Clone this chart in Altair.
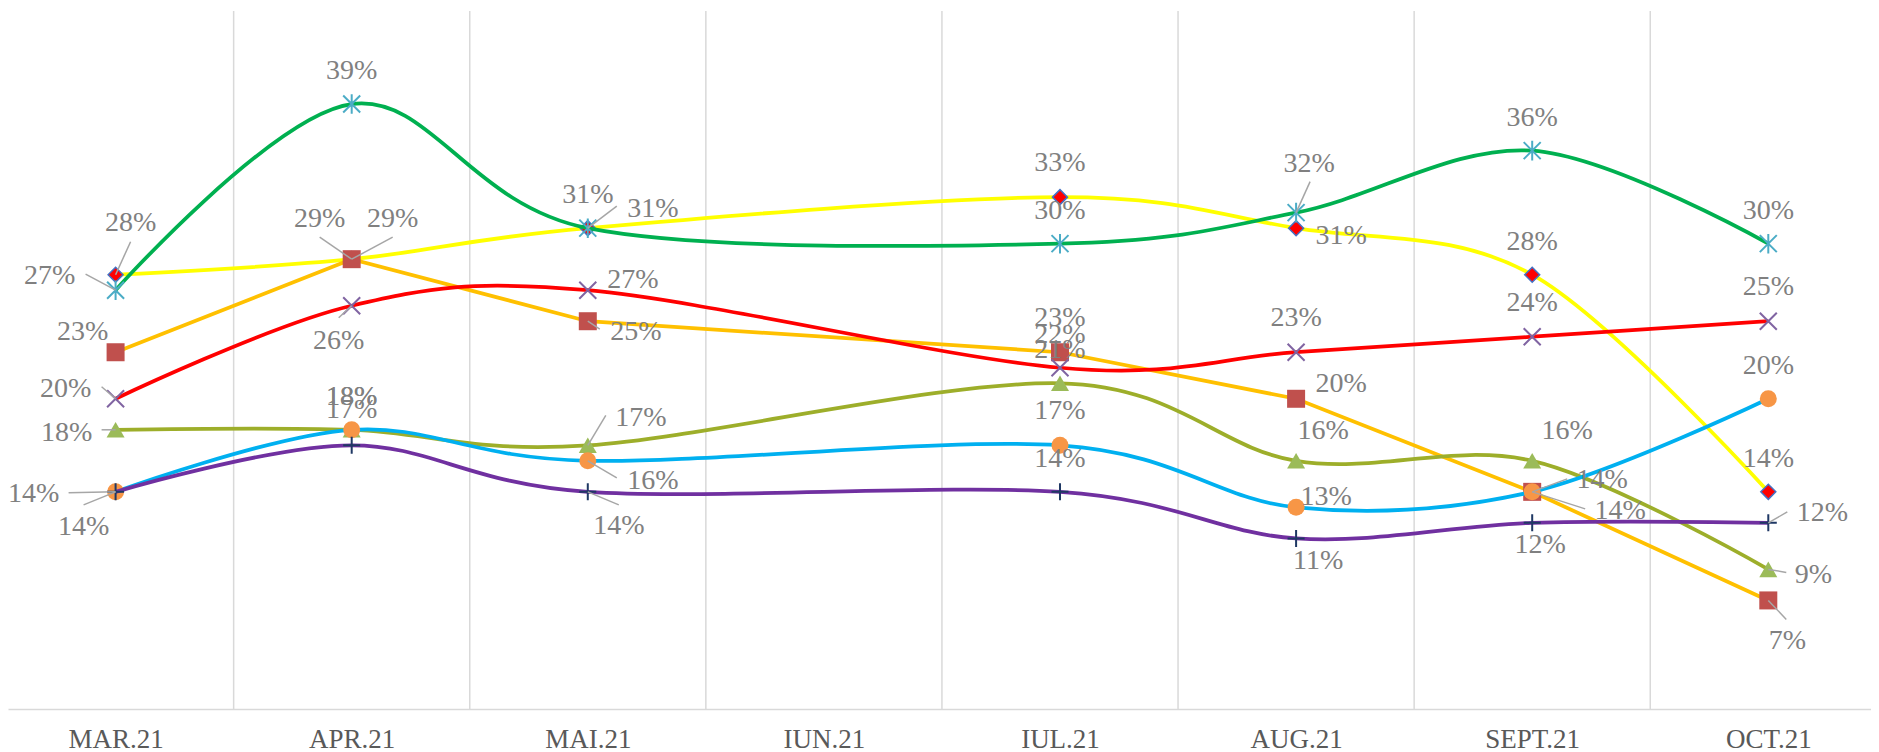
import altair as alt
import pandas as pd

# ---------------- data ----------------
months = ["MAR.21", "APR.21", "MAI.21", "IUN.21", "IUL.21", "AUG.21", "SEPT.21", "OCT.21"]

series_names = ["Seria 1", "Seria 2", "Seria 3", "Seria 4", "Seria 5", "Seria 6", "Seria 7"]

s1 = [28, 29, 31, None, 33, 31, 28, 14]   # yellow line, red diamonds
s2 = [27, 39, 31, None, 30, 32, 36, 30]   # green line, asterisks
s3 = [23, 29, 25, None, 23, 20, 14, 7]    # gold line, squares
s4 = [20, 26, 27, None, 22, 23, 24, 25]   # red line, x marks
s5 = [18, 18, 17, None, 21, 16, 16, 9]    # olive line, triangles
s6 = [14, 18, 16, None, 17, 13, 14, 20]   # light blue line, circles
s7 = [14, 17, 14, None, 14, 11, 12, 12]   # purple line, plus marks

series_values = [s1, s2, s3, s4, s5, s6, s7]

# ---------------- styles ----------------
W, H = 1863, 698
X_DOMAIN = [-0.4557, 7.435]
Y_DOMAIN = [0, 0.45]
PX_X = W / (X_DOMAIN[1] - X_DOMAIN[0])
PX_Y = H / (Y_DOMAIN[1] - Y_DOMAIN[0])

ASTERISK = "M-1,-1L1,1M-1,1L1,-1M0,-1.15L0,1.15"
XMARK = "M-1,-1L1,1M-1,1L1,-1"
PLUS = "M-1,0L1,0M0,-1L0,1"

styles = [
    dict(line="#FFFF00", interp="cardinal", shape="diamond", fill="#FF0000", stroke="#4472C4", sw=1.5, size=225, filled=True),
    dict(line="#00B050", interp="cardinal", shape=ASTERISK, fill=None, stroke="#4BACC6", sw=2, size=289, filled=False),
    dict(line="#FFC000", interp="linear", shape="square", fill="#C0504D", stroke=None, sw=0, size=324, filled=True),
    dict(line="#FF0000", interp="cardinal", shape=XMARK, fill=None, stroke="#8064A2", sw=2, size=289, filled=False),
    dict(line="#9DAE2A", interp="cardinal", shape="triangle-up", fill="#9BBB59", stroke=None, sw=0, size=324, filled=True),
    dict(line="#00B0F0", interp="cardinal", shape="circle", fill="#F79646", stroke=None, sw=0, size=289, filled=True),
    dict(line="#7030A0", interp="cardinal", shape=PLUS, fill=None, stroke="#1F3864", sw=2, size=289, filled=False),
]

# label placement (dx, dy) in pixels relative to each marker, per series, per month
A = (0, -33)
label_offsets = [
    [(15, -52), (41, -40), (65, -19), None, (0, -34), (45, 8), A, A],
    [(-66, -14), A, A, None, A, (13, -49), A, A],
    [(-33, -20), (-32, -40), (48, 11), None, (0, -34), (45, -15), (88, 19), (19, 41)],
    [(-50, -10), (-13, 35), (45, -10), None, A, (0, -34), (0, -34), (0, -34)],
    [(-49, 3), A, (53, -27), None, A, (27, -30), (35, -30), (45, 6)],
    [(-82, 2), A, (65, 20), None, (0, -34), (30, -10), (70, -12), A],
    [(-32, 35), (0, -35), (31, 34), None, A, (22, 23), (8, 22), (54, -10)],
]

# leader line end (dx, dy) in pixels relative to the marker, for moved labels
leader_offsets = [
    [(15, -33), (41, -22), (29, -22), None, None, None, None, None],
    [(-30, -16), None, None, None, None, (14, -31), None, None],
    [None, (-32, -22), (12, 8), None, None, None, (53, 17), (18, 19)],
    [(-14, -12), (-13, 12), None, None, None, None, None, None],
    [(-14, 0), None, (18, -30), None, None, None, None, (18, 3)],
    [(-47, 1), None, (29, 17), None, None, None, (35, -13), None],
    [(-32, 13), None, (31, 13), None, None, None, None, (19, -11)],
]

# ---------------- build table ----------------
rows = []
for si, (name, vals) in enumerate(zip(series_names, series_values)):
    for i, v in enumerate(vals):
        if v is None:
            continue
        rows.append(dict(series=name, sidx=si, idx=i, month=months[i], value=v / 100.0))
df = pd.DataFrame(rows)

label_expr = "[" + ",".join("'" + m + "'" for m in months) + "][datum.value]"

xscale = alt.Scale(domain=X_DOMAIN, nice=False, zero=False)
yscale = alt.Scale(domain=Y_DOMAIN, nice=False, zero=False)

x_axis = alt.Axis(
    values=list(range(len(months))),
    labelExpr=label_expr,
    title=None,
    grid=False,
    ticks=False,
    tickSize=0,
    domainColor="#D9D9D9",
    domainWidth=1.5,
    labelFont="Liberation Serif",
    labelFontSize=27,
    labelColor="#595959",
    labelPadding=17,
    labelAngle=0,
    labelFlush=False,
    labelOverlap=False,
)


def X(field="idx:Q"):
    return alt.X(field, scale=xscale, axis=x_axis)


def Y(field="value:Q"):
    return alt.Y(field, scale=yscale, axis=None)


layers = []

# vertical gridlines between categories
bounds = pd.DataFrame({"b": [i + 0.5 for i in range(len(months) - 1)]})
grid = alt.Chart(bounds).mark_rule(color="#D9D9D9", strokeWidth=1.5).encode(
    x=X("b:Q"), y=alt.value(0), y2=alt.value(H)
)
layers.append(grid)

for si, name in enumerate(series_names):
    st = styles[si]
    sub = df[df.sidx == si]
    line = alt.Chart(sub).mark_line(
        color=st["line"], strokeWidth=3.75, interpolate=st["interp"]
    ).encode(x=X(), y=Y(), order="idx:Q")
    layers.append(line)
    pkw = dict(shape=st["shape"], size=st["size"], opacity=1, filled=st["filled"])
    if st["filled"]:
        pkw["fill"] = st["fill"]
        if st["stroke"]:
            pkw["stroke"] = st["stroke"]
            pkw["strokeWidth"] = st["sw"]
        else:
            pkw["strokeWidth"] = 0
    else:
        pkw["stroke"] = st["stroke"]
        pkw["strokeWidth"] = st["sw"]
    pts = alt.Chart(sub).mark_point(**pkw).encode(x=X(), y=Y())
    layers.append(pts)

# leader lines (drawn from each moved label's marker)
lrows = []
for si in range(len(series_names)):
    for i in range(len(months)):
        off = leader_offsets[si][i]
        if off is None or series_values[si][i] is None:
            continue
        lrows.append(dict(idx=i, value=series_values[si][i] / 100.0, ldx=off[0], ldy=off[1]))
ldf = pd.DataFrame(lrows)
leaders = alt.Chart(ldf).transform_calculate(
    x2=f"datum.idx + datum.ldx / {PX_X}",
    y2=f"datum.value - datum.ldy / {PX_Y}",
).mark_rule(color="#A6A6A6", strokeWidth=1.5).encode(
    x=X(), y=Y(), x2="x2:Q", y2="y2:Q"
)
layers.append(leaders)

# data labels, grouped by placement
groups = {}
for si in range(len(series_names)):
    for i in range(len(months)):
        off = label_offsets[si][i]
        if off is None or series_values[si][i] is None:
            continue
        groups.setdefault(off, []).append((si, i))

for (dx, dy), keys in groups.items():
    sub = pd.concat([df[(df.sidx == si) & (df.idx == i)] for si, i in keys])
    txt = alt.Chart(sub).mark_text(
        font="Liberation Serif", fontSize=28, color="#808080",
        align="center", baseline="middle", dx=dx, dy=dy
    ).encode(x=X(), y=Y(), text=alt.Text("value:Q", format=".0%"))
    layers.append(txt)

chart = alt.layer(*layers).properties(
    width=W,
    height=H,
    autosize=alt.AutoSizeParams(type="none"),
    padding={"left": 0, "right": 0, "top": 3, "bottom": 45},
).configure_view(stroke=None)

chart.save("out.html", embed_options={"renderer": "svg", "actions": False})
